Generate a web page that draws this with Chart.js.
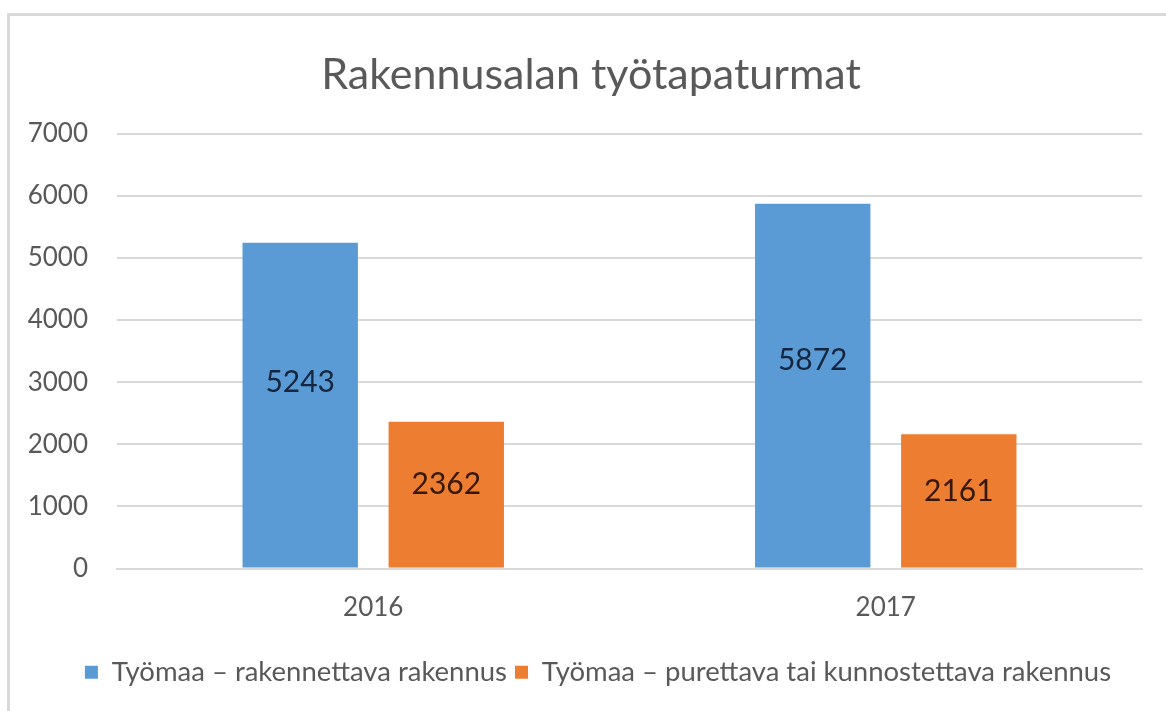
<!DOCTYPE html>
<html>
<head>
<meta charset="utf-8">
<script src="https://cdn.jsdelivr.net/npm/chart.js@4"></script>
<style>
    html, body { margin: 0; padding: 0; background: #fff; }
    #wrap { position: absolute; left: 0; top: 0; width: 1166px; height: 711px; }
    #frame { position: absolute; left: 7px; top: 13px; right: 0; bottom: 0;
             border-left: 3px solid #d9d9d9; border-top: 3px solid #d9d9d9; }
    canvas { position: absolute; left: 0; top: 0; }
</style>
</head>
<body>
<div id="wrap">
    <div id="frame"></div>
    <canvas id="chart" width="1166" height="711"></canvas>
</div>
<script>
// Tiedot
const years = ['2016', '2017'];
const rakennettava = [5243, 5872];
const purettava = [2362, 2161];
const seriesNames = ['Työmaa – rakennettava rakennus', 'Työmaa – purettava tai kunnostettava rakennus'];
const yTicks = [0, 1000, 2000, 3000, 4000, 5000, 6000, 7000];

const FONT = 'Lato, "Open Sans", sans-serif';
const GREY = '#595959';
const labelColors = ['#142640', '#351805'];

// Arvot pylväiden sisään, hieman keskikohdan yläpuolelle
const valueLabels = {
    id: 'valueLabels',
    afterDatasetsDraw(chart) {
        const ctx = chart.ctx;
        ctx.save();
        ctx.font = '30px ' + FONT;
        ctx.textAlign = 'center';
        ctx.textBaseline = 'middle';
        chart.data.datasets.forEach((ds, i) => {
            ctx.fillStyle = labelColors[i];
            chart.getDatasetMeta(i).data.forEach((bar, j) => {
                const y = bar.base - (bar.base - bar.y) * 0.57;
                ctx.fillText(ds.data[j], bar.x, y);
            });
        });
        ctx.restore();
    }
};

// Otsikko ja selite hieman oikealle, kuten alkuperäisessä
const shiftBoxes = {
    id: 'shiftBoxes',
    afterLayout(chart) {
        if (chart.titleBlock) chart.titleBlock.left += 40;
        if (chart.legend) chart.legend.left += 54;
    }
};

new Chart(document.getElementById('chart').getContext('2d'), {
    type: 'bar',
    data: {
        labels: years,
        datasets: [
            { label: seriesNames[0], data: rakennettava, backgroundColor: '#5b9bd5' },
            { label: seriesNames[1], data: purettava, backgroundColor: '#ed7d31' }
        ]
    },
    options: {
        responsive: false,
        animation: false,
        categoryPercentage: 0.57,
        barPercentage: 0.79,
        layout: { padding: { left: 0, right: 24, top: 0, bottom: 15 } },
        scales: {
            x: {
                afterFit: (s) => { s.height = 82; },
                grid: { display: false, drawTicks: false },
                border: { color: '#d9d9d9', width: 2 },
                ticks: { color: GREY, font: { family: FONT, size: 26 }, padding: 24 }
            },
            y: {
                min: 0,
                max: 7000,
                afterFit: (s) => { s.width = 117; },
                afterBuildTicks: (s) => { s.ticks = yTicks.map((v) => ({ value: v })); },
                grid: { color: '#d9d9d9', lineWidth: 2, drawTicks: false },
                border: { display: false },
                ticks: {
                    color: GREY,
                    font: { family: FONT, size: 26 },
                    padding: 29,
                    callback: (v) => String(v)
                }
            }
        },
        plugins: {
            title: {
                display: true,
                text: 'Rakennusalan työtapaturmat',
                color: GREY,
                font: { family: FONT, size: 43, weight: 'normal' },
                padding: { top: 49, bottom: 33 }
            },
            legend: {
                position: 'bottom',
                labels: {
                    color: GREY,
                    font: { family: FONT, size: 27.5 },
                    boxWidth: 13,
                    boxHeight: 13,
                    padding: 8
                }
            },
            tooltip: { enabled: false }
        }
    },
    plugins: [valueLabels, shiftBoxes]
});
</script>
</body>
</html>
